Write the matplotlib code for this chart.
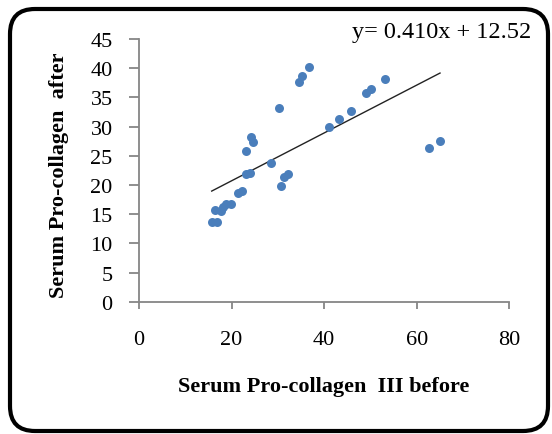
import matplotlib
matplotlib.use("Agg")
import numpy as np
import matplotlib.pyplot as plt
from matplotlib.patches import FancyBboxPatch

# serum pro-collagen III, before vs after
before = [15.7, 16.8, 16.5, 17.8, 18.2, 18.8, 19.9, 21.4, 22.2, 23.2,
          23.0, 24.0, 24.2, 24.7, 28.5, 30.2, 30.7, 31.4, 32.1, 34.5,
          35.3, 36.8, 41.0, 43.2, 45.8, 49.0, 50.1, 53.2, 62.7, 65.0]
after = [13.7, 13.7, 15.8, 15.5, 16.2, 16.8, 16.8, 18.6, 18.9, 25.8,
         21.8, 22.0, 28.2, 27.4, 23.7, 33.2, 19.9, 21.4, 21.8, 37.7,
         38.7, 40.2, 29.9, 31.3, 32.6, 35.8, 36.4, 38.1, 26.4, 27.5]
slope, intercept = 0.410, 12.52

x_ticks = [0, 20, 40, 60, 80]
y_ticks = [0, 5, 10, 15, 20, 25, 30, 35, 40, 45]

SERIF = "Liberation Serif"

fig = plt.figure(figsize=(5.52, 4.35), dpi=100)
ax = fig.add_axes([0.2518, 0.304, 0.6712, 0.604])

ax.scatter(before, after, s=42, color="#4a7ebb", zorder=3, linewidths=0)

fit_x = np.array([min(before), max(before)])
ax.plot(fit_x, slope * fit_x + intercept, color="#222222", lw=1.0, zorder=2)

ax.set_xlim(0, 80)
ax.set_ylim(0, 45)
ax.set_xticks(x_ticks)
ax.set_yticks(y_ticks)
for s in ("top", "right"):
    ax.spines[s].set_visible(False)
for s in ("left", "bottom"):
    ax.spines[s].set_color("#868686")
    ax.spines[s].set_linewidth(1.3)
ax.tick_params(axis="y", direction="out", length=7, width=1.3, color="#868686",
               pad=12, labelsize=16)
ax.tick_params(axis="x", direction="out", length=5, width=1.3, color="#868686",
               pad=15, labelsize=16)
for lab in ax.get_xticklabels() + ax.get_yticklabels():
    lab.set_fontfamily(SERIF)

fig.text(0.107, 0.596, "Serum Pro-collagen  after", rotation=90, ha="center",
         va="center", fontsize=16, fontweight="bold", family=SERIF)
fig.text(0.587, 0.11, "Serum Pro-collagen  III before", ha="center",
         va="center", fontsize=16, fontweight="bold", family=SERIF)
fig.text(0.962, 0.926, "y= 0.410x + 12.52", ha="right", va="center",
         fontsize=17.5, family=SERIF)

frame = FancyBboxPatch((0.1, 0.03), 5.38, 4.22,
                       boxstyle="round,pad=0,rounding_size=0.25",
                       transform=fig.dpi_scale_trans, fill=False,
                       edgecolor="black", lw=3)
fig.patches.append(frame)

fig.savefig("out.png", dpi=100)
